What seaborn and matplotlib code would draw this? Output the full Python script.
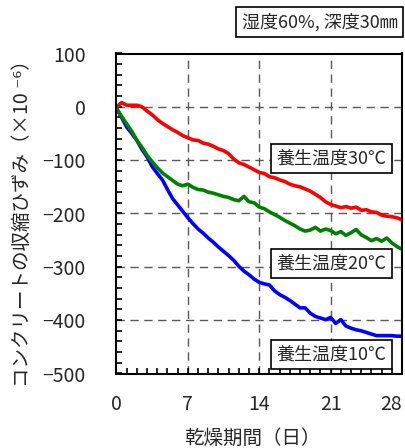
import numpy as np
import pandas as pd
import matplotlib
matplotlib.use("Agg")
import matplotlib.pyplot as plt
import seaborn as sns

# Drying period (days) shared by all three curves
days = [0, 0.5, 1, 1.5, 2, 2.5, 3, 3.5, 4, 4.5, 5, 5.5, 6, 6.5, 7, 7.5, 8, 8.5,
        9, 9.5, 10, 10.5, 11, 11.5, 12, 12.5, 13, 13.5, 14, 14.5, 15, 15.5, 16,
        16.5, 17, 17.5, 18, 18.5, 19, 19.5, 20, 20.5, 21, 21.5, 22, 22.5, 23,
        23.5, 24, 24.5, 25, 25.5, 26, 26.5, 27, 27.5, 28]

# Shrinkage strain (x10^-6) for each curing temperature
strain_30c = [0, 8, 3, 3, 3, 0, -8, -15, -24, -31, -37, -43, -48, -54, -58, -62,
              -63, -68, -70, -74, -79, -82, -88, -98, -105, -108, -113, -118,
              -123, -125, -131, -133, -137, -140, -145, -148, -150, -154, -158,
              -164, -170, -178, -183, -186, -189, -187, -190, -188, -194, -193,
              -197, -198, -203, -205, -206, -208, -212]
strain_20c = [-3, -18, -32, -46, -63, -76, -91, -103, -114, -124, -131, -138,
              -145, -148, -145, -151, -155, -156, -160, -162, -165, -168, -170,
              -174, -176, -168, -178, -180, -188, -191, -197, -202, -207, -213,
              -218, -223, -229, -233, -231, -226, -233, -229, -232, -238, -234,
              -241, -236, -230, -240, -245, -251, -247, -252, -246, -255, -262,
              -267]
strain_10c = [-3, -20, -38, -50, -63, -80, -94, -112, -125, -137, -155, -172,
              -184, -196, -208, -219, -229, -237, -246, -254, -263, -271, -279,
              -288, -299, -308, -315, -323, -329, -332, -334, -345, -352, -357,
              -363, -370, -377, -377, -387, -393, -396, -399, -395, -406, -399,
              -411, -415, -418, -420, -423, -426, -429, -429, -429, -429, -430,
              -430]

series_labels = ["養生温度10℃", "養生温度20℃", "養生温度30℃"]
series_colors = ["#0000ff", "#008000", "#ff0000"]

x_ticks = [0, 7, 14, 21, 28]
y_ticks = [100, 0, -100, -200, -300, -400, -500]

df = pd.concat([
    pd.DataFrame({"day": days, "strain": strain_10c, "curing": series_labels[0]}),
    pd.DataFrame({"day": days, "strain": strain_20c, "curing": series_labels[1]}),
    pd.DataFrame({"day": days, "strain": strain_30c, "curing": series_labels[2]}),
])

sns.set_style("white")
plt.rcParams["font.family"] = ["Noto Sans CJK JP", "DejaVu Sans"]
plt.rcParams["axes.unicode_minus"] = True

fig = plt.figure(figsize=(4.06, 4.48), dpi=100)
ax = fig.add_axes([116.5 / 406, 1 - 373.5 / 448, 285.5 / 406, 320 / 448])

sns.lineplot(data=df, x="day", y="strain", hue="curing",
             hue_order=series_labels, palette=series_colors,
             linewidth=2.6, legend=False, ax=ax, estimator=None, sort=False)

ax.set_xlim(0, 28)
ax.set_ylim(-500, 100)
ax.set_xticks(x_ticks)
ax.set_yticks(y_ticks)
ax.set_xticks(np.arange(0, 29, 1), minor=True)
ax.set_yticks(np.arange(-500, 101, 20), minor=True)
ax.set_yticklabels([str(v).replace("-", "−") for v in y_ticks])
ax.set_xticklabels([str(v) for v in x_ticks])
ax.get_xticklabels()[-1].set_horizontalalignment("right")
ax.set_xlabel("")
ax.set_ylabel("")

for s in ax.spines.values():
    s.set_color("black")
    s.set_linewidth(1.5)

ax.tick_params(axis="both", which="both", direction="in", color="black",
               width=1.2, top=False, right=False, bottom=True, left=True)
ax.tick_params(axis="both", which="major", length=4, labelsize=14)
ax.tick_params(axis="both", which="minor", length=4)
ax.tick_params(axis="x", which="major", pad=15)
ax.tick_params(axis="y", which="major", pad=22)

# Dashed grid at the major ticks
for xv in x_ticks[1:-1]:
    ax.axvline(xv, color="0.35", lw=1.0, dashes=(6, 4), zorder=0)
for yv in y_ticks[1:-1]:
    ax.axhline(yv, color="0.35", lw=1.0, dashes=(6, 4), zorder=0)

box = dict(boxstyle="square,pad=0.3", fc="white", ec="black", lw=1.2)
label_pos = {series_labels[2]: 0.673, series_labels[1]: 0.345, series_labels[0]: 0.059}
for lab, yy in label_pos.items():
    ax.text(0.752, yy, lab, transform=ax.transAxes, ha="center", va="center",
            fontsize=13, bbox=box, zorder=5)

fig.text(319.5 / 406, 1 - 22 / 448, "湿度60%, 深度30㎜", ha="center",
         va="center", fontsize=13, bbox=box)

fig.text(22.5 / 406, 1 - 219 / 448, "コンクリートの収縮ひずみ（×10 ⁻⁶）",
         rotation=90, ha="center", va="center", fontsize=14)
fig.text(252 / 406, 1 - 438 / 448, "乾燥期間（日）", ha="center", va="center",
         fontsize=14)

fig.savefig("out.png", dpi=100)
